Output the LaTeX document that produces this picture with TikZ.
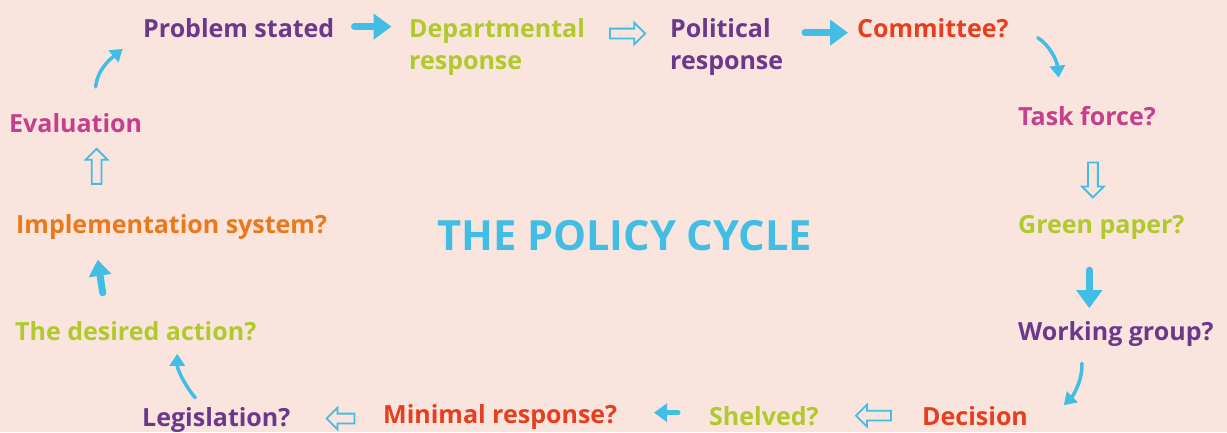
\documentclass[tikz,border=0pt]{standalone}
\usepackage{fontspec}
\setmainfont{Open Sans}
\usetikzlibrary{arrows.meta,shapes.arrows}
\definecolor{bgpink}{RGB}{249,229,222}
\definecolor{cycblue}{RGB}{66,190,228}
\definecolor{ppurple}{RGB}{108,56,140}
\definecolor{lgreen}{RGB}{178,201,44}
\definecolor{rred}{RGB}{230,62,30}
\definecolor{mpink}{RGB}{196,64,140}
\definecolor{oorange}{RGB}{236,120,26}
\tikzset{
  stage/.style={anchor=base west, inner sep=0pt, align=left,
    font=\bfseries\fontsize{25}{32}\selectfont},
  fat/.style={cycblue, line width=7pt, -{Triangle[width=25pt,length=18pt]}},
  curvy/.style={cycblue, line width=3.5pt, -{Triangle[width=15pt,length=12pt]}},
  hollow/.style={single arrow, draw=cycblue, line width=1.8pt, inner xsep=0pt,
    inner ysep=4pt, single arrow head extend=6pt, minimum height=35pt}
}

\begin{document}
\begin{tikzpicture}[x=1pt, y=-1pt, line cap=round]
\useasboundingbox (0,0) rectangle (1227,432);
\fill[bgpink] (0,0) rectangle (1227,432);

% the stages, clockwise from the top left
% (two-line nodes sit on the baseline of their last line)
\node[stage, ppurple] (prob)  at (143,37)  {Problem stated};
\node[stage, lgreen]  (dept)  at (409,69)  {Departmental\\response};
\node[stage, ppurple] (pol)   at (670,69)  {Political\\response};
\node[stage, rred]    (cmte)  at (857,37)  {Committee?};
\node[stage, mpink]   (task)  at (1018,125) {Task force?};
\node[stage, lgreen]  (green) at (1018,233) {Green paper?};
\node[stage, ppurple] (work)  at (1018,340) {Working group?};
\node[stage, rred]    (dec)   at (922,425) {Decision};
\node[stage, lgreen]  (shelv) at (709,425) {Shelved?};
\node[stage, rred]    (mini)  at (383,423) {Minimal response?};
\node[stage, ppurple] (leg)   at (142,426) {Legislation?};
\node[stage, lgreen]  (want)  at (15,340)  {The desired action?};
\node[stage, oorange] (impl)  at (16,233)  {Implementation system?};
\node[stage, mpink]   (eval)  at (9,132)   {Evaluation};

\node[anchor=base west, inner sep=0pt, cycblue,
  font=\bfseries\fontsize{41.6}{48}\selectfont] (title) at (437,250) {THE POLICY CYCLE};

% arrows between the stages
\draw[fat] (prob.east) ++(20,-1) -- ++(37,0);
\path (dept.east) ++(40,-13) node[hollow] (h1) {};
\draw[fat] (cmte.west) ++(-52,5) -- ++(43,0);
\draw[curvy] (cmte.east) ++(29,10) .. controls +(12,8) and +(-2,-18) .. ++(21,40);
\path (task.south) ++(6,52) node[hollow, rotate=-90] (h2) {};
\draw[fat] (green.south) ++(-12,31) -- ++(0,38);
\draw[curvy] (work.south) ++(-34,17) .. controls +(1,18) and +(8,-8) .. ++(-18,42);
\path (dec.west) ++(-46,0) node[hollow, rotate=180] (h3) {};
\draw[fat, line width=5pt, -{Triangle[width=18pt,length=13pt]}] (shelv.west) ++(-31,-3) -- ++(-24,0);
\path (mini.west) ++(-40,2) node[hollow, rotate=180, minimum height=28pt] (h4) {};
\draw[curvy] (leg.north) ++(-21,-9) .. controls +(-10,-12) and +(0,16) .. ++(-18,-44);
\draw[fat, -{Triangle[width=22pt,length=16pt]}] (want.north) ++(-33,-28) -- ++(-5,-33);
\path (impl.north) ++(-75,-45) node[hollow, rotate=90] (h5) {};
\draw[curvy] (eval.north) ++(20,-26) .. controls +(2,-18) and +(-12,10) .. ++(27,-38);
\end{tikzpicture}
\end{document}
